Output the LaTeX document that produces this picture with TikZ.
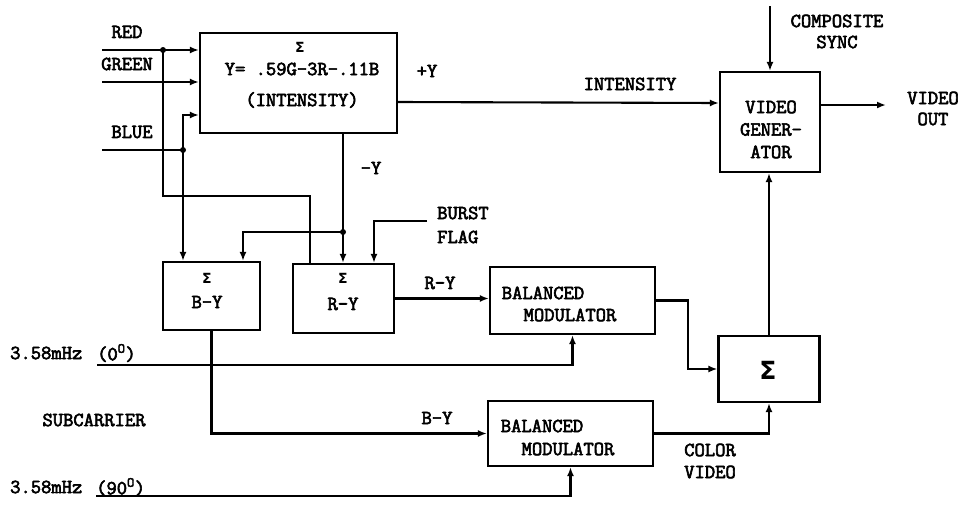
\documentclass[tikz,border=0pt]{standalone}
\usepackage{fontspec}
\newfontfamily\tw[FakeBold=3]{Latin Modern Mono}
\newfontfamily\sigfont{DejaVu Sans}
\usetikzlibrary{arrows.meta,calc}
\begin{document}
\begin{tikzpicture}[x=1pt,y=-1pt,
  box/.style={draw,line width=2.2pt,inner sep=0pt,rectangle},
  lbl/.style={inner sep=0pt,font=\tw\fontsize{20}{22.5}\selectfont},
  sig/.style={inner sep=0pt,font=\sigfont\bfseries\fontsize{14}{14}\selectfont},
  wire/.style={line width=2.1pt},
  arr/.style={wire,-{Latex[length=9pt,width=7pt]}},
  dot/.style={circle,fill,inner sep=0pt,minimum size=6pt}
]
\path[use as bounding box] (0,0) rectangle (964,504);

% boxes
\node[box,minimum width=197pt,minimum height=100pt] (Y) at (298.5,83) {};
\node[box,minimum width=100pt,minimum height=100pt] (VG) at (770,122) {};
\node[box,minimum width=97pt,minimum height=68pt] (BY) at (211.5,296) {};
\node[box,minimum width=101pt,minimum height=69pt] (RY) at (343.5,298.5) {};
\node[box,minimum width=165pt,minimum height=67pt] (BM1) at (572.5,300.5) {};
\node[box,minimum width=165pt,minimum height=65pt] (BM2) at (570.5,433.5) {};
\node[box,minimum width=101pt,minimum height=66pt] (S) at (769,369) {};

% box texts
\node[sig] (ysig) at (300,47) {Σ};
\node[lbl] (yeq) at (302,69) {Y= .59G-3R-.11B};
\node[lbl] (yint) at (302,100) {(INTENSITY)};
\node[lbl,align=center] (vgt) at (771,129.5) {VIDEO\\GENER-\\ATOR};
\node[sig] (bysig) at (207,278) {Σ};
\node[lbl] (byt) at (207,302) {B-Y};
\node[sig] (rysig) at (343,278) {Σ};
\node[lbl] (ryt) at (343,304) {R-Y};
\node[lbl] (bm1a) at (543,293) {BALANCED};
\node[lbl] (bm1b) at (570,315) {MODULATOR};
\node[lbl] (bm2a) at (542,426) {BALANCED};
\node[lbl] (bm2b) at (568,449) {MODULATOR};
\node[inner sep=0pt,font=\sigfont\bfseries\fontsize{25}{25}\selectfont] (ssig) at (768,370) {Σ};

% labels
\node[lbl] (lred) at (127,32) {RED};
\node[lbl] (lgreen) at (127,64) {GREEN};
\node[lbl] (lblue) at (132,132) {BLUE};
\node[lbl] (lpy) at (427,71) {+Y};
\node[lbl] (lint) at (630,84) {INTENSITY};
\node[lbl] (lmy) at (371,168) {-Y};
\node[lbl] (lcomp) at (837,21) {COMPOSITE};
\node[lbl] (lsync) at (837,42) {SYNC};
\node[lbl] (lvid) at (933,98) {VIDEO};
\node[lbl] (lout) at (933,119) {OUT};
\node[lbl,anchor=west] (lburst) at (437,213) {BURST};
\node[lbl,anchor=west] (lflag) at (437,237) {FLAG};
\node[lbl] (lry) at (440,283) {R-Y};
\node[lbl] (lby) at (437,418) {B-Y};
\node[lbl] (lcol) at (710,450) {COLOR};
\node[lbl] (lcv) at (710,472) {VIDEO};
\node[lbl] (lsub) at (94,420) {SUBCARRIER};
\node[lbl,anchor=west] (lc0) at (10,353) {3.58mHz};
\node[lbl,anchor=west] (lc0p) at (97,353) {(0\textsuperscript{O})};
\node[lbl,anchor=west] (lc90) at (10,487) {3.58mHz};
\node[lbl,anchor=west] (lc90p) at (96,487) {(90\textsuperscript{O})};

% coordinates
\coordinate (red0) at (102,50);
\coordinate (green0) at (102,82);
\coordinate (blue0) at (102,150);
\coordinate (jr) at (163,50);
\coordinate (jb) at (183,150);
\coordinate (jy) at (343,232);
\coordinate (burst0) at (427,221);
\coordinate (sync0) at (770,6);
\coordinate (vout) at (886,105);
\coordinate (c0) at (97,365);
\coordinate (c90) at (96,496);

% inputs
\draw[arr] (red0) -- (red0 -| Y.west);
\draw[arr] (green0) -- (green0 -| Y.west);
\draw[wire] (blue0) -- (jb);
\draw[arr] (jb) |- ($(Y.west)+(0,32)$);
\draw[arr] (jb) -- (jb |- BY.north);
\draw[wire] (jr) -- (163,196) -| ($(RY.north)+(-33.5,0)$);
\node[dot] (djr) at (jr) {};
\node[dot] (djb) at (jb) {};

% -Y
\draw[arr] (jy |- Y.south) -- (jy |- RY.north);
\draw[arr] (jy) -| ($(BY.north)+(31.5,0)$);
\node[dot] (djy) at (jy) {};

% burst flag
\draw[arr] (burst0) -| ($(RY.north)+(30.5,0)$);

% R-Y to BM1
\draw[arr] (RY.east) -- (RY.east -| BM1.west);
% BM1 to sum
\draw[arr] (BM1.east) -- ++(32,0) |- (S.west);
% carrier 0
\draw[arr] (c0) -| (BM1.south);
% B-Y to BM2
\draw[arr] (BY.south) |- (BM2.west);
% carrier 90
\draw[arr] (c90) -| (BM2.south);
% BM2 to sum
\draw[arr] (BM2.east) -| (S.south);
% sum to VG
\draw[arr] (S.north) -- (S.north |- VG.south);
% intensity
\draw[arr] ($(Y.east)+(0,19)$) -- ($(VG.west)+(0,-19)$);
% sync
\draw[arr] (sync0) -- (VG.north);
% out
\draw[arr] (vout -| VG.east) -- (vout);
\end{tikzpicture}
\end{document}
